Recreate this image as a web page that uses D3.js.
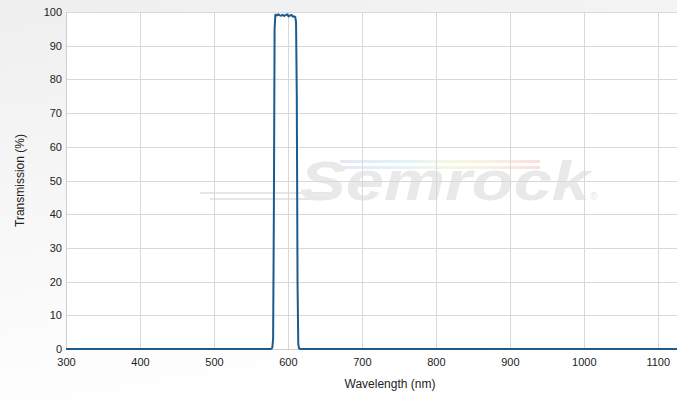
<!DOCTYPE html>
<html><head><meta charset="utf-8">
<script src="https://cdn.jsdelivr.net/npm/d3@7"></script>
<style>body{margin:0;background:#fff}svg{display:block}</style>
</head><body>
<svg id="c" width="677" height="402"></svg>
<script>
const wavelength = [300, 560, 575, 578, 579, 580, 581, 582, 583, 585, 587, 589, 591, 593, 595, 597, 599, 601, 603, 605, 607, 609, 610, 611, 612, 613, 614, 615, 617, 630, 800, 1126];
const transmission = [0, 0, 0, 0.1, 0.5, 3, 40, 95, 99.2, 99.0, 99.3, 99.0, 98.9, 99.2, 98.8, 99.1, 99.3, 98.7, 99.0, 99.1, 98.6, 98.7, 98.5, 97, 75, 20, 1.5, 0.2, 0, 0, 0, 0];
const xTicks = [300, 400, 500, 600, 700, 800, 900, 1000, 1100];
const yTicks = [0, 10, 20, 30, 40, 50, 60, 70, 80, 90, 100];

const W = 677, H = 402;
const m = {l: 66, t: 12, r: 0, b: 53};
const svg = d3.select('#c');
const defs = svg.append('defs');
const bg = defs.append('linearGradient').attr('id','bg').attr('x1',0).attr('y1',0).attr('x2',0.3).attr('y2',1);
bg.append('stop').attr('offset','0%').attr('stop-color','#efefef');
bg.append('stop').attr('offset','100%').attr('stop-color','#ffffff');
const rb = defs.append('linearGradient').attr('id','rb').attr('x1',0).attr('x2',1);
[['0%','#e0e0f8'],['30%','#d8f0f8'],['55%','#f0f8d8'],['75%','#f8ecd8'],['100%','#f8d8d8']].forEach(s=>rb.append('stop').attr('offset',s[0]).attr('stop-color',s[1]));

svg.append('rect').attr('width',W).attr('height',H).attr('fill','url(#bg)');

const x = d3.scaleLinear().domain([300, 1126]).range([m.l, W - m.r]);
const y = d3.scaleLinear().domain([0, 100]).range([H - m.b, m.t]);

svg.append('rect').attr('x',m.l).attr('y',m.t).attr('width',W-m.r-m.l).attr('height',H-m.b-m.t).attr('fill','#fff');

// watermark
const wm = svg.append('g');
wm.append('rect').attr('x',340).attr('y',160).attr('width',200).attr('height',3).attr('fill','url(#rb)').attr('opacity',0.8);
wm.append('rect').attr('x',335).attr('y',166).attr('width',205).attr('height',3).attr('fill','url(#rb)').attr('opacity',0.8);
wm.append('line').attr('x1',200).attr('x2',330).attr('y1',193).attr('y2',193).attr('stroke','#e6e6e6').attr('stroke-width',2);
wm.append('line').attr('x1',210).attr('x2',330).attr('y1',199).attr('y2',199).attr('stroke','#e6e6e6').attr('stroke-width',2);
wm.append('text').attr('x',300).attr('y',200).attr('font-family','Liberation Sans, Arial, sans-serif')
  .attr('font-size',56).attr('font-weight','bold').attr('font-style','italic').attr('fill','#e9e9e9')
  .attr('textLength',290).attr('lengthAdjust','spacingAndGlyphs').text('Semrock');
wm.append('text').attr('x',590).attr('y',200).attr('font-family','Liberation Sans, Arial, sans-serif')
  .attr('font-size',10).attr('fill','#e6e6e6').text('®');

// grid
const grid = svg.append('g');
grid.selectAll('.vg').data(xTicks.filter(d=>d>300)).enter().append('line')
  .attr('x1',d=>Math.round(x(d))+0.5).attr('x2',d=>Math.round(x(d))+0.5)
  .attr('y1',m.t).attr('y2',H-m.b).attr('stroke','#d8d8d8').attr('stroke-width',1);
grid.selectAll('.hg').data(yTicks.filter(d=>d>0)).enter().append('line')
  .attr('x1',m.l).attr('x2',W-m.r).attr('y1',d=>Math.round(y(d))+0.5).attr('y2',d=>Math.round(y(d))+0.5)
  .attr('stroke','#d8d8d8').attr('stroke-width',1);
svg.append('line').attr('x1',m.l+0.5).attr('x2',m.l+0.5).attr('y1',m.t).attr('y2',H-m.b).attr('stroke','#cfcfcf');
svg.append('line').attr('x1',m.l).attr('x2',W).attr('y1',H-m.b+0.5).attr('y2',H-m.b+0.5).attr('stroke','#cfcfcf');

// axes
const font = 'Liberation Sans, Arial, sans-serif';
const xa = svg.append('g').attr('transform',`translate(0,${H-m.b})`)
  .call(d3.axisBottom(x).tickValues(xTicks).tickSize(0).tickPadding(9).tickFormat(d3.format('d')));
xa.select('.domain').remove();
xa.selectAll('text').attr('font-family',font).attr('font-size',11).attr('fill','#222');
const ya = svg.append('g').attr('transform',`translate(${m.l},0)`)
  .call(d3.axisLeft(y).tickValues(yTicks).tickSize(0).tickPadding(4).tickFormat(d3.format('d')));
ya.select('.domain').remove();
ya.selectAll('text').attr('font-family',font).attr('font-size',11).attr('fill','#222');

svg.append('text').attr('x',390).attr('y',388).attr('text-anchor','middle')
  .attr('font-family',font).attr('font-size',12).attr('fill','#222').text('Wavelength (nm)');
svg.append('text').attr('transform',`translate(24,${(m.t+H-m.b)/2}) rotate(-90)`).attr('text-anchor','middle')
  .attr('font-family',font).attr('font-size',12).attr('fill','#222').text('Transmission (%)');

// data line
const pts = wavelength.map((w,i)=>[w, transmission[i]]);
svg.append('path').datum(pts).attr('fill','none').attr('stroke','#1d5b8c').attr('stroke-width',2)
  .attr('stroke-linejoin','round')
  .attr('d', d3.line().x(d=>x(d[0])).y(d=>y(d[1])));
</script>
</body></html>
